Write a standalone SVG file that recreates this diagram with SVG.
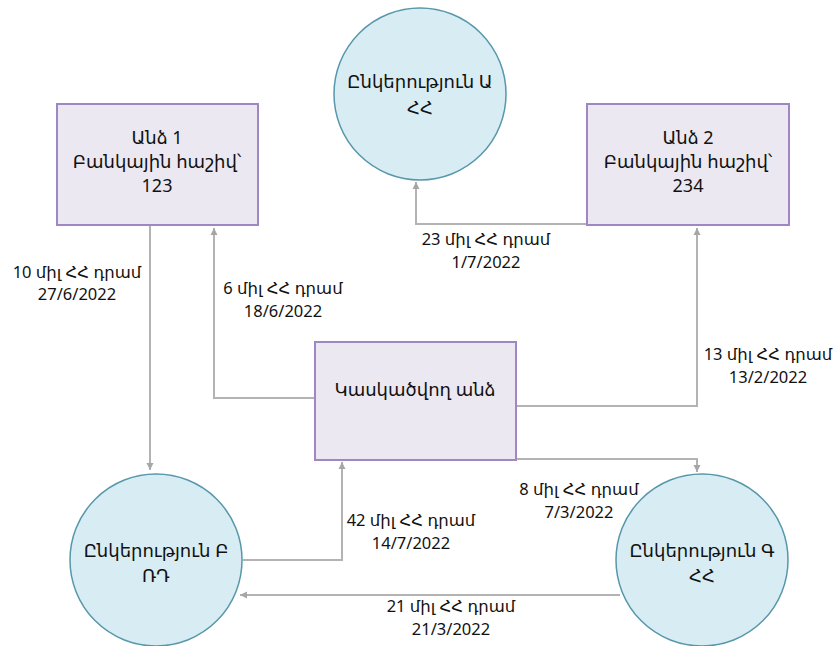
<svg xmlns="http://www.w3.org/2000/svg" width="835" height="646" viewBox="0 0 835 646">
<defs>
<marker id="ah" markerWidth="8" markerHeight="8" refX="7" refY="4" orient="auto" markerUnits="userSpaceOnUse">
<path d="M0,0.5 L7,4 L0,7.5 Z" fill="#a6a6a6"/>
</marker>
<style>
.box{fill:#ebe8f1;stroke:#9e87c2;stroke-width:2}
.circ{fill:#d8ecf3;stroke:#5797ab;stroke-width:1.5}
.conn{fill:none;stroke:#b3b3b3;stroke-width:2;marker-end:url(#ah)}
.nt{font-family:"Noto Sans","DejaVu Sans",sans-serif;font-size:18px;fill:#111111;text-anchor:middle}
.et{font-family:"Noto Sans","DejaVu Sans",sans-serif;font-size:16.5px;fill:#111111;text-anchor:middle}
</style>
</defs>
<rect width="835" height="646" fill="#ffffff"/>
<g id="connectors">
<path class="conn" d="M150,225 V470"/>
<path class="conn" d="M315,398 H214 V228"/>
<path class="conn" d="M587,224 H416 V182"/>
<path class="conn" d="M516,406 H697 V228"/>
<path class="conn" d="M516,459 H697 V472"/>
<path class="conn" d="M243,560 H342 V462"/>
<path class="conn" d="M620,595 H240"/>
</g>
<g id="labels">
<text class="et" x="77" y="278">10 միլ ՀՀ դրամ</text>
<text class="et" x="77" y="300">27/6/2022</text>
<text class="et" x="283" y="294">6 միլ ՀՀ դրամ</text>
<text class="et" x="283" y="317">18/6/2022</text>
<text class="et" x="486" y="245">23 միլ ՀՀ դրամ</text>
<text class="et" x="486" y="268">1/7/2022</text>
<text class="et" x="768" y="360">13 միլ ՀՀ դրամ</text>
<text class="et" x="768" y="383">13/2/2022</text>
<text class="et" x="579" y="495">8 միլ ՀՀ դրամ</text>
<text class="et" x="579" y="518">7/3/2022</text>
<text class="et" x="411" y="526">42 միլ ՀՀ դրամ</text>
<text class="et" x="411" y="549">14/7/2022</text>
<text class="et" x="451" y="612">21 միլ ՀՀ դրամ</text>
<text class="et" x="451" y="635">21/3/2022</text>
</g>
<g id="companyA">
<circle class="circ" cx="420" cy="94" r="86"/>
<text class="nt" x="420" y="88">Ընկերություն Ա</text>
<text class="nt" x="420" y="114">ՀՀ</text>
</g>
<g id="person1">
<rect class="box" x="57" y="104" width="201" height="121"/>
<text class="nt" x="157" y="144">Անձ 1</text>
<text class="nt" x="157" y="168">Բանկային հաշիվ՝</text>
<text class="nt" x="157" y="192">123</text>
</g>
<g id="person2">
<rect class="box" x="587" y="104" width="202" height="121"/>
<text class="nt" x="688" y="144">Անձ 2</text>
<text class="nt" x="688" y="168">Բանկային հաշիվ՝</text>
<text class="nt" x="688" y="192">234</text>
</g>
<g id="suspect">
<rect class="box" x="315" y="342" width="201" height="118"/>
<text class="nt" x="415" y="396">Կասկածվող անձ</text>
</g>
<g id="companyB">
<circle class="circ" cx="156" cy="560" r="86"/>
<text class="nt" x="156" y="557">Ընկերություն Բ</text>
<text class="nt" x="156" y="582">ՌԴ</text>
</g>
<g id="companyG">
<circle class="circ" cx="702" cy="560" r="86"/>
<text class="nt" x="702" y="557">Ընկերություն Գ</text>
<text class="nt" x="702" y="582">ՀՀ</text>
</g>
</svg>
